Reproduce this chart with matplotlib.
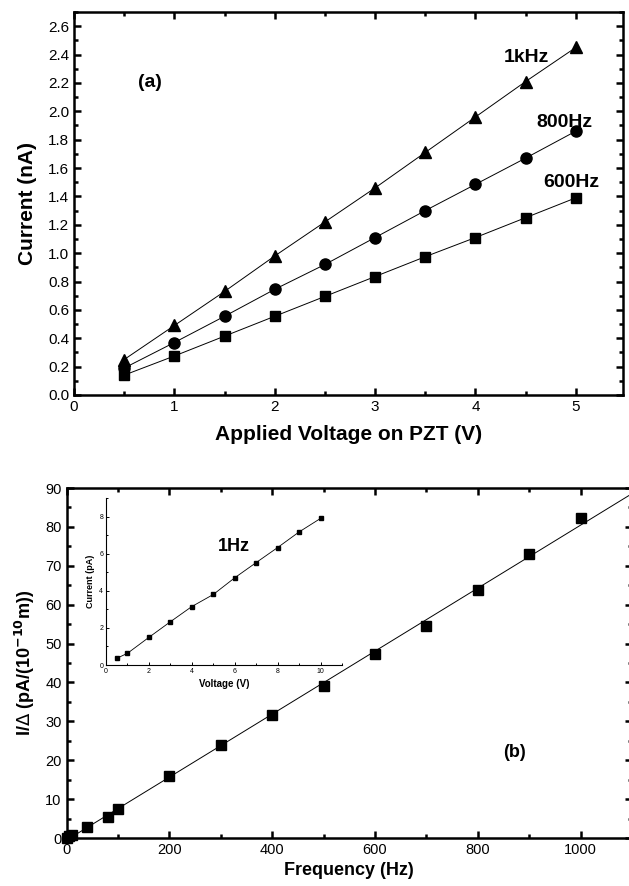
import matplotlib.pyplot as plt
import numpy as np
from matplotlib.ticker import MultipleLocator

plt.rcParams['font.family'] = ['Liberation Sans', 'DejaVu Sans']

# panel (a): current vs voltage on PZT
volt = [0.5, 1.0, 1.5, 2.0, 2.5, 3.0, 3.5, 4.0, 4.5, 5.0]
cur_1k = [0.25, 0.49, 0.73, 0.98, 1.22, 1.46, 1.71, 1.96, 2.21, 2.45]
cur_800 = [0.19, 0.37, 0.555, 0.745, 0.92, 1.11, 1.30, 1.485, 1.67, 1.86]
cur_600 = [0.14, 0.275, 0.415, 0.555, 0.695, 0.835, 0.975, 1.11, 1.25, 1.39]

# panel (b): I/delta vs frequency
freq = [1, 5, 10, 40, 80, 100, 200, 300, 400, 500, 600, 700, 800, 900, 1000]
ratio = [0.08, 0.4, 0.8, 2.8, 5.3, 7.5, 15.9, 23.8, 31.6, 39.2, 47.2, 54.5, 63.7, 73.0, 82.4]

# inset: 1 Hz current vs voltage
in_volt = [0.5, 1, 2, 3, 4, 5, 6, 7, 8, 9, 10]
in_cur = [0.36, 0.63, 1.49, 2.33, 3.15, 3.80, 4.70, 5.52, 6.33, 7.17, 7.90]

W, H = 629, 886
fig = plt.figure(figsize=(W / 100, H / 100), dpi=100)


def style(ax, lw=1.8):
    for s in ax.spines.values():
        s.set_linewidth(lw)
    ax.tick_params(which='both', direction='in', top=True, right=True, width=1.8)
    ax.tick_params(which='major', length=5)
    ax.tick_params(which='minor', length=3)


# ---- top panel ----
ax1 = fig.add_axes([74 / W, 1 - 395 / H, (623 - 74) / W, (395 - 12) / H])
ax1.plot(volt, cur_1k, 'k-', lw=0.7, marker='^', ms=9, clip_on=False)
ax1.plot(volt, cur_800, 'k-', lw=0.7, marker='o', ms=8, clip_on=False)
ax1.plot(volt, cur_600, 'k-', lw=0.7, marker='s', ms=7, clip_on=False)
ax1.set_xlim(0, 5.47)
ax1.set_ylim(0, 2.7)
ax1.xaxis.set_major_locator(MultipleLocator(1))
ax1.xaxis.set_minor_locator(MultipleLocator(0.5))
ax1.yaxis.set_major_locator(MultipleLocator(0.2))
ax1.yaxis.set_minor_locator(MultipleLocator(0.1))
style(ax1)
ax1.tick_params(labelsize=11)
ax1.set_xlabel('Applied Voltage on PZT (V)', fontsize=15, fontweight='bold', labelpad=8)
ax1.set_ylabel('Current (nA)', fontsize=15, fontweight='bold', labelpad=8)
ax1.text(4.28, 2.38, '1kHz', fontsize=14, fontweight='bold', va='center')
ax1.text(4.61, 1.92, '800Hz', fontsize=14, fontweight='bold', va='center')
ax1.text(4.68, 1.50, '600Hz', fontsize=14, fontweight='bold', va='center')
ax1.text(0.64, 2.2, '(a)', fontsize=14, fontweight='bold', va='center')

# ---- bottom panel ----
ax2 = fig.add_axes([66.5 / W, 1 - 838 / H, (632 - 66.5) / W, (838 - 488) / H])
k, b = np.polyfit(freq, ratio, 1)
xf = np.array([0, 1150])
ax2.plot(xf, k * xf + b, 'k-', lw=0.7)
ax2.plot(freq, ratio, 'ks', ms=7, ls='none', clip_on=False)
ax2.set_xlim(0, 1100)
ax2.set_ylim(0, 90)
ax2.xaxis.set_major_locator(MultipleLocator(200))
ax2.xaxis.set_minor_locator(MultipleLocator(100))
ax2.yaxis.set_major_locator(MultipleLocator(10))
ax2.yaxis.set_minor_locator(MultipleLocator(5))
style(ax2)
ax2.tick_params(labelsize=10.5)
ax2.set_xlabel('Frequency (Hz)', fontsize=13, fontweight='bold', labelpad=4)
ax2.set_ylabel(r'I/$\Delta$ (pA/(10$^{\mathbf{-10}}$m))', fontsize=13, fontweight='bold', labelpad=6)
ax2.text(872, 22.1, '(b)', fontsize=13, fontweight='bold', va='center', ha='center')

# ---- inset ----
ax3 = fig.add_axes([106 / W, 1 - 665 / H, (342 - 106) / W, (665 - 498) / H])
ax3.plot(in_volt, in_cur, 'k-', lw=0.6, marker='s', ms=3)
ax3.set_xlim(0, 11)
ax3.set_ylim(0, 9)
ax3.xaxis.set_major_locator(MultipleLocator(2))
ax3.xaxis.set_minor_locator(MultipleLocator(1))
ax3.yaxis.set_major_locator(MultipleLocator(2))
ax3.yaxis.set_minor_locator(MultipleLocator(1))
ax3.spines['top'].set_visible(False)
ax3.spines['right'].set_visible(False)
for s in ('left', 'bottom'):
    ax3.spines[s].set_linewidth(0.8)
ax3.tick_params(which='both', direction='in', width=0.7, labelsize=5, pad=2)
ax3.tick_params(which='major', length=2.5)
ax3.tick_params(which='minor', length=1.5)
ax3.set_xlabel('Voltage (V)', fontsize=7, fontweight='bold', labelpad=3)
ax3.set_ylabel('Current (pA)', fontsize=6.5, fontweight='bold', labelpad=3)
ax3.text(5.2, 6.4, '1Hz', fontsize=13, fontweight='bold', va='center')
ax3.patch.set_alpha(0)

fig.savefig('out.png', dpi=100)
